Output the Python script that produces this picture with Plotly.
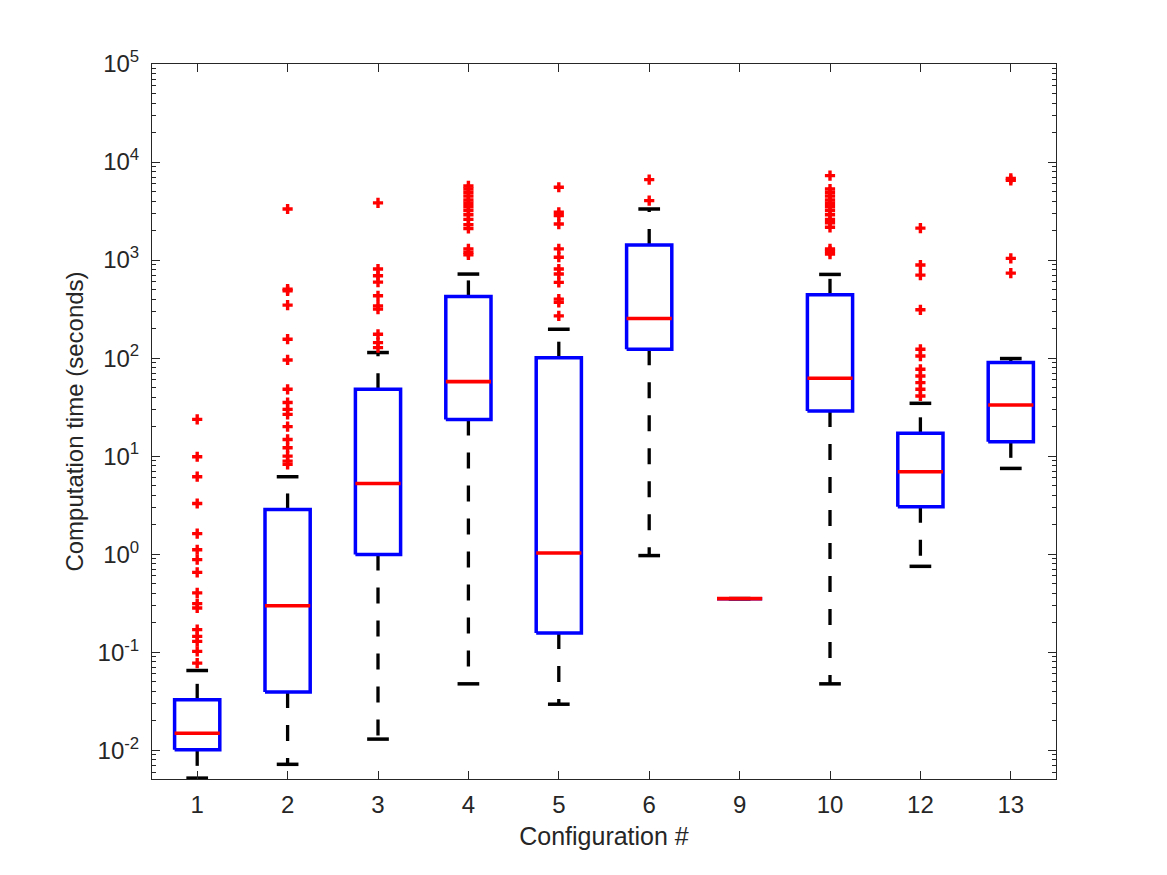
import plotly.graph_objects as go

# ---- data ----
configs = ["1", "2", "3", "4", "5", "6", "9", "10", "12", "13"]
q1_vals = [0.0101, 0.0392, 0.99, 23.7, 0.157, 123, 0.352, 28.9, 3.04, 14.0]
median_vals = [0.0149, 0.298, 5.27, 57.6, 1.03, 254, 0.352, 62.3, 6.93, 33.2]
q3_vals = [0.0327, 2.86, 48.1, 426, 101, 1423, 0.352, 442, 17.1, 90.2]
upper_whisker = [0.0651, 6.17, 114, 720, 197, 3320, 0.352, 714, 34.6, 99]
lower_whisker = [0.0052, 0.00719, 0.0130, 0.0476, 0.0295, 0.968, 0.352, 0.0476, 0.752, 7.50]
outliers = [
    [23.7, 9.86, 6.17, 3.29, 1.62, 1.11, 0.88, 0.653, 0.403, 0.313, 0.283,
     0.170, 0.145, 0.129, 0.102, 0.0775],
    [3320, 506, 486, 347, 156, 95.8, 48.1, 35.2, 30.0, 26.7, 20.0, 14.8,
     12.2, 10.0, 8.9, 8.24],
    [3830, 810, 692, 596, 432, 341, 316, 175, 144, 128],
    [5700, 5300, 4900, 4500, 4100, 3800, 3500, 3200, 2900, 2600, 2300, 2100,
     1300, 1200, 1130],
    [5530, 3070, 2840, 2330, 1300, 1070, 810, 720, 592, 400, 370, 270],
    [6620, 4040],
    [],
    [7270, 5300, 4900, 4500, 4100, 3800, 3500, 3200, 2900, 2600, 2400, 2160,
     1300, 1230, 1150],
    [2120, 890, 703, 311, 123, 105, 76.9, 65.7, 56.3, 48.1, 41.1],
    [6800, 6500, 1040, 736],
]
y_decades = [-2, -1, 0, 1, 2, 3, 4, 5]

# ---- style ----
BOX_HALF = 0.25
CAP_HALF = 0.12
AX_COLOR = "#262626"
FONT = "Liberation Sans"

fig = go.Figure()

wx, wy, cx, cy, bx, by, mx, my, ox, oy = [], [], [], [], [], [], [], [], [], []
for i, name in enumerate(configs):
    p = i + 1
    wx += [p, p, None, p, p, None]
    wy += [q3_vals[i], upper_whisker[i], None, q1_vals[i], lower_whisker[i], None]
    cx += [p - CAP_HALF, p + CAP_HALF, None, p - CAP_HALF, p + CAP_HALF, None]
    cy += [upper_whisker[i], upper_whisker[i], None, lower_whisker[i], lower_whisker[i], None]
    bx += [p - BOX_HALF, p + BOX_HALF, p + BOX_HALF, p - BOX_HALF, p - BOX_HALF, None]
    by += [q1_vals[i], q1_vals[i], q3_vals[i], q3_vals[i], q1_vals[i], None]
    mx += [p - BOX_HALF, p + BOX_HALF, None]
    my += [median_vals[i], median_vals[i], None]
    ox += [p] * len(outliers[i])
    oy += outliers[i]

fig.add_trace(go.Scatter(x=wx, y=wy, mode="lines", hoverinfo="skip",
                         line=dict(color="black", width=3.3, dash="16px,17px")))
fig.add_trace(go.Scatter(x=cx, y=cy, mode="lines", hoverinfo="skip",
                         line=dict(color="black", width=3.5)))
fig.add_trace(go.Scatter(x=bx, y=by, mode="lines", hoverinfo="skip",
                         line=dict(color="#0000ff", width=3.5)))
fig.add_trace(go.Scatter(x=mx, y=my, mode="lines", hoverinfo="skip",
                         line=dict(color="#ff0000", width=3.6)))
fig.add_trace(go.Scatter(x=ox, y=oy, mode="markers", hoverinfo="skip",
                         marker=dict(symbol="cross", size=8.5, color="#ff0000",
                                     line=dict(width=0))))

minor_vals = [m * 10 ** d for d in range(-3, 5) for m in range(2, 10)]

fig.update_layout(
    width=1167, height=875,
    margin=dict(l=152, r=111, t=64, b=96),
    paper_bgcolor="white", plot_bgcolor="white",
    showlegend=False,
    font=dict(family=FONT, size=24, color=AX_COLOR),
)
fig.update_xaxes(
    range=[0.5, 10.5], tickmode="array",
    tickvals=list(range(1, len(configs) + 1)), ticktext=configs,
    ticks="inside", ticklen=8, tickcolor=AX_COLOR, tickwidth=1,
    showline=True, linecolor=AX_COLOR, linewidth=1, mirror="ticks",
    showgrid=False, zeroline=False,
    title=dict(text="Configuration #", font=dict(size=25), standoff=10),
    tickfont=dict(size=24), ticklabelstandoff=4,
)
fig.update_yaxes(
    type="log", range=[-2.293, 5], tickmode="array",
    tickvals=[10 ** d for d in y_decades],
    ticktext=["10<sup>%d</sup>" % d for d in y_decades],
    ticks="inside", ticklen=8, tickcolor=AX_COLOR, tickwidth=1,
    minor=dict(tickmode="array", tickvals=minor_vals, ticks="inside",
               ticklen=4, tickcolor=AX_COLOR, showgrid=False),
    showline=True, linecolor=AX_COLOR, linewidth=1, mirror="ticks",
    showgrid=False, zeroline=False,
    title=dict(text="Computation time (seconds)", font=dict(size=24), standoff=7),
    tickfont=dict(size=24), ticklabelstandoff=7,
)

fig.write_html("out.html")
